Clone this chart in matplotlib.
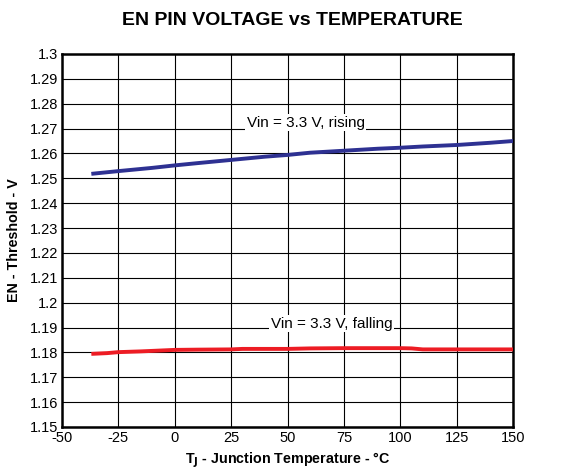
import numpy as np
import matplotlib.pyplot as plt

plt.rcParams['font.family'] = ['Liberation Sans', 'DejaVu Sans']
plt.rcParams['mathtext.default'] = 'regular'

# data
temp_rising = [-37, -25, -10, 0, 10, 25, 40, 50, 60, 75, 90, 100, 110, 125, 140, 150]
en_rising = [1.2518, 1.2529, 1.2542, 1.2552, 1.2561, 1.2574, 1.2587, 1.2594, 1.2603, 1.2611, 1.2619, 1.2623, 1.2628, 1.2634, 1.2643, 1.2650]

temp_falling = [-37, -30, -25, -15, -5, 0, 10, 25, 30, 50, 60, 75, 90, 100, 105, 110, 125, 150]
en_falling = [1.1794, 1.1797, 1.1801, 1.1804, 1.1808, 1.1810, 1.1811, 1.1812, 1.1814, 1.1814, 1.1816, 1.1817, 1.1817, 1.1817, 1.1816, 1.1812, 1.1812, 1.1812]

x_ticks = [-50, -25, 0, 25, 50, 75, 100, 125, 150]
y_ticks = [1.15, 1.16, 1.17, 1.18, 1.19, 1.2, 1.21, 1.22, 1.23, 1.24, 1.25, 1.26, 1.27, 1.28, 1.29, 1.3]

fig = plt.figure(figsize=(5.79, 4.74), dpi=100)
ax = fig.add_axes([0.1071, 0.0992, 0.7789, 0.7869])

ax.plot(temp_rising, en_rising, color='#2e3192', linewidth=2.8, solid_capstyle='butt', zorder=3)
ax.plot(temp_falling, en_falling, color='#ed1c24', linewidth=2.8, solid_capstyle='butt', zorder=3)

ax.set_xlim(-50, 150)
ax.set_ylim(1.15, 1.3)
ax.set_xticks(x_ticks)
ax.set_xticklabels([str(t) for t in x_ticks])
ax.set_yticks(y_ticks)
ax.set_yticklabels([f'{v:g}' for v in y_ticks])
ax.tick_params(length=0, labelsize=10.5, pad=3)
ax.grid(True, color='black', linewidth=0.8)
ax.set_axisbelow(True)
for s in ax.spines.values():
    s.set_linewidth(1.8)

ax.text(58, 1.2724, 'Vin = 3.3 V, rising', fontsize=11, ha='center', va='center',
        bbox=dict(facecolor='white', edgecolor='none', pad=1.2), zorder=4)
ax.text(69.5, 1.1915, 'Vin = 3.3 V, falling', fontsize=11, ha='center', va='center',
        bbox=dict(facecolor='white', edgecolor='none', pad=1.2), zorder=4)

ax.set_xlabel(r'T$_\mathbf{J}$ - Junction Temperature - °C', fontsize=10.3, fontweight='bold', labelpad=4)
ax.set_ylabel('EN - Threshold - V', fontsize=10.3, fontweight='bold', labelpad=6)
fig.text(0.505, 0.957, 'EN PIN VOLTAGE vs TEMPERATURE', fontsize=14, fontweight='bold',
         ha='center', va='center')

fig.savefig('out.png', dpi=100)
